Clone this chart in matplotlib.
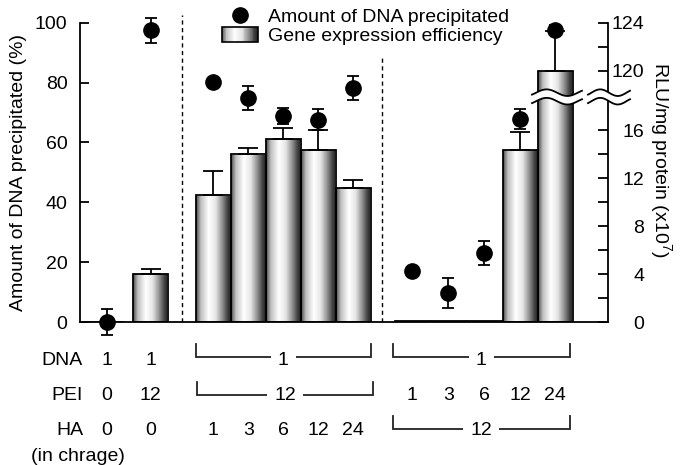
import numpy as np
import matplotlib
matplotlib.use("Agg")
import matplotlib.pyplot as plt
from matplotlib.patches import Rectangle, Polygon
from matplotlib.lines import Line2D
from matplotlib.legend_handler import HandlerBase
from matplotlib.ticker import FixedLocator

plt.rcParams["font.family"] = ["Liberation Sans", "DejaVu Sans"]
plt.rcParams["font.size"] = 14
plt.rcParams["mathtext.fontset"] = "custom"
plt.rcParams["mathtext.rm"] = "Liberation Sans"
plt.rcParams["mathtext.it"] = "Liberation Sans:italic"
plt.rcParams["mathtext.bf"] = "Liberation Sans:bold"

# ---- data ----
# gene expression, RLU/mg protein (x10^7)
rlu = [0, 4.05, 10.6, 14.0, 15.3, 14.4, 11.2, 0.08, 0.08, 0.08, 14.4, 119.9]
rlu_err = [0, 0.35, 2.0, 0.5, 0.9, 1.6, 0.7, 0, 0, 0, 1.5, 3.4]
# amount of DNA precipitated (%)
precip = [0, 97.5, 80.1, 74.8, 68.8, 67.6, 78.1, 17.1, 9.8, 23.2, 67.9, 97.6]
precip_err = [4.5, 4.2, 1.0, 3.9, 2.7, 3.4, 4.0, 1.0, 5.0, 4.0, 3.3, 1.5]

# composition table under the plot
first_dna = ["1", "1"]
first_pei = ["0", "12"]
first_ha = ["0", "0"]
grp3_dna, grp3_pei = "1", "12"
grp3_ha = ["1", "3", "6", "12", "24"]
grp4_dna, grp4_ha = "1", "12"
grp4_pei = ["1", "3", "6", "12", "24"]

# x positions of the 12 columns
pos = np.array([0, 1.25, 3.02, 4.01, 5.0, 5.99, 6.98, 8.66, 9.68, 10.7, 11.72, 12.71])
bar_w = 0.99


# broken right axis: 18..120 squeezed into a small gap
def fwd(r):
    r = np.asarray(r, dtype=float)
    return np.where(r <= 18, r, np.where(r >= 120, r - 99, 18 + (r - 18) * 3 / 102))


def inv(y):
    y = np.asarray(y, dtype=float)
    return np.where(y <= 18, y, np.where(y >= 21, y + 99, 18 + (y - 18) * 102 / 3))


# cylinder-like shading of the bars
shade_t = [0, 0.12, 0.35, 0.55, 0.75, 0.9, 1.0]
shade_v = [0.35, 0.75, 1.0, 0.9, 0.55, 0.25, 0.12]
grad = np.interp(np.linspace(0, 1, 64), shade_t, shade_v)


class GradientHandler(HandlerBase):
    def create_artists(self, legend, orig_handle, xdescent, ydescent,
                       width, height, fontsize, trans):
        arts = []
        n = 40
        for k in range(n):
            c = str(float(np.interp((k + 0.5) / n, shade_t, shade_v)))
            arts.append(Rectangle((-xdescent + k * width / n, -ydescent), width / n * 1.1, height,
                                  facecolor=c, edgecolor="none", transform=trans))
        arts.append(Rectangle((-xdescent, -ydescent), width, height, facecolor="none",
                              edgecolor="black", linewidth=1.2, transform=trans))
        return arts


fig = plt.figure(figsize=(6.81, 4.65), dpi=100)
ax1 = fig.add_axes([80 / 681, 1 - 322 / 465, 528 / 681, 299.3 / 465])
ax2 = ax1.twinx()
ax1.set_zorder(ax2.get_zorder() + 1)
ax1.patch.set_visible(False)

# bars on the right (RLU) axis
ax2.set_yscale("function", functions=(fwd, inv))
bars = ax2.bar(pos, rlu, width=bar_w, facecolor="none", edgecolor="black", linewidth=1.3, zorder=3)
for p in bars.patches:
    if p.get_height() <= 0:
        continue
    im = ax2.imshow(grad[None, :], cmap="gray", vmin=0, vmax=1, aspect="auto",
                    extent=(p.get_x(), p.get_x() + p.get_width(), 0, 124),
                    interpolation="bilinear", zorder=2)
    im.set_clip_path(p)

idx = [i for i, e in enumerate(rlu_err) if e > 0]
ax2.errorbar(pos[idx], [rlu[i] for i in idx], yerr=[[0] * len(idx), [rlu_err[i] for i in idx]],
             fmt="none", ecolor="black", elinewidth=1.3, capsize=7, capthick=1.3, zorder=4)

# points on the left (%) axis
eb = ax1.errorbar(pos, precip, yerr=precip_err, fmt="o", color="black", markersize=11,
                  elinewidth=1.3, capsize=4, capthick=1.3, zorder=5)
eb.lines[0].set_clip_on(False)
for a in eb.lines[1]:
    a.set_clip_on(False)
for a in eb.lines[2]:
    a.set_clip_on(False)

ax1.set_xlim(-0.756, 14.2)
ax1.set_ylim(0, 100)
ax2.set_ylim(0, 124)

# dashed separators
ax1.axvline(2.13, ymin=0, ymax=1.026, color="black", linestyle=(0, (3, 2.5)), linewidth=1, clip_on=False, zorder=1)
ax1.axvline(7.81, ymin=0, ymax=0.892, color="black", linestyle=(0, (3, 2.5)), linewidth=1, clip_on=False, zorder=1)

# spines and ticks
for s in ["top", "right"]:
    ax1.spines[s].set_visible(False)
for s in ["top", "left", "bottom"]:
    ax2.spines[s].set_visible(False)
ax1.spines["left"].set_linewidth(1.3)
ax1.spines["bottom"].set_linewidth(1.3)
ax2.spines["right"].set_linewidth(1.3)

ax1.set_xticks([])
ax1.set_yticks([0, 20, 40, 60, 80, 100])
ax1.tick_params(axis="y", direction="in", length=6.5, width=1.3, pad=9)
ax2.yaxis.set_major_locator(FixedLocator([0, 4, 8, 12, 16, 120, 124]))
ax2.yaxis.set_minor_locator(FixedLocator([2, 6, 10, 14, 122]))
ax2.yaxis.set_major_formatter(matplotlib.ticker.FuncFormatter(lambda v, p: "%d" % round(v)))
ax2.yaxis.set_minor_formatter(matplotlib.ticker.NullFormatter())
ax2.tick_params(axis="y", which="both", direction="in", length=7, width=1.3, pad=26)
plt.setp(ax2.get_yticklabels(), ha="right")

ax1.set_ylabel("Amount of DNA precipitated (%)", va="center")
ax1.yaxis.set_label_coords(-0.117, 0.5)
ax2.set_ylabel(r"RLU/mg protein (x10$^7$)", rotation=-90, va="center", ha="center")
ax2.yaxis.set_label_coords(1.100, 0.541)


# axis break marks
def draw_break(ax, xa0, xa1, yc):
    xs = np.linspace(xa0, xa1, 80)
    ph = (xs - xa0) / (xa1 - xa0)
    wave = 3.3 / 299.3 * np.sin(2 * np.pi * (ph * 1.2 - 0.1))
    gap = 8.5 / 299.3
    up = yc + gap / 2 + wave
    lo = yc - gap / 2 + wave
    poly = Polygon(np.column_stack([np.r_[xs, xs[::-1]], np.r_[up, lo[::-1]]]), closed=True,
                   facecolor="white", edgecolor="none", transform=ax.transAxes, clip_on=False, zorder=8)
    ax.add_patch(poly)
    ax.plot(xs, up, color="black", linewidth=1.3, transform=ax.transAxes, clip_on=False, zorder=9)
    ax.plot(xs, lo, color="black", linewidth=1.3, transform=ax.transAxes, clip_on=False, zorder=9)


draw_break(ax2, (532 - 80) / 528, (582 - 80) / 528, 0.752)
draw_break(ax2, (588 - 80) / 528, (630 - 80) / 528, 0.752)

# legend
pt_handle = Line2D([], [], marker="o", color="black", linestyle="none", markersize=11)
bar_handle = Rectangle((0, 0), 1, 1)
ax1.legend([pt_handle, bar_handle], ["Amount of DNA precipitated", "Gene expression efficiency"],
           handler_map={bar_handle: GradientHandler()}, loc="upper left",
           bbox_to_anchor=(222 / 681, 1 - 8 / 465), bbox_transform=fig.transFigure,
           frameon=False, borderpad=0, borderaxespad=0, handlelength=1.85, handleheight=0.8,
           handletextpad=0.5, labelspacing=0.05)

# composition table below the axis
tr = ax1.get_xaxis_transform()
row_y = {"DNA": -0.127, "PEI": -0.244, "HA": -0.361}
line_y = {"DNA": (-0.117, -0.0735), "PEI": (-0.244, -0.2005), "HA": (-0.3575, -0.314)}
for name, y in row_y.items():
    ax1.text(-0.67, y, name, transform=tr, ha="right", va="center", clip_on=False)
ax1.text(-0.81, -0.448, "(in chrage)", transform=tr, ha="center", va="center", clip_on=False)

for i in range(2):
    ax1.text(pos[i], row_y["DNA"], first_dna[i], transform=tr, ha="center", va="center")
    ax1.text(pos[i], row_y["PEI"], first_pei[i], transform=tr, ha="center", va="center")
    ax1.text(pos[i], row_y["HA"], first_ha[i], transform=tr, ha="center", va="center")
for i, lab in enumerate(grp3_ha):
    ax1.text(pos[2 + i], row_y["HA"], lab, transform=tr, ha="center", va="center")
for i, lab in enumerate(grp4_pei):
    ax1.text(pos[7 + i], row_y["PEI"], lab, transform=tr, ha="center", va="center")


def bracket(x0, x1, row, label):
    yl, yt = line_y[row]
    ax1.plot([x0, x0, x1, x1], [yt, yl, yl, yt], color="#222222", linewidth=1.3,
             transform=tr, clip_on=False, solid_joinstyle="miter")
    ax1.text((x0 + x1) / 2, row_y[row], label, transform=tr, ha="center", va="center",
             bbox=dict(facecolor="white", edgecolor="none", pad=5), clip_on=False)


bracket(pos[2] - 0.5, pos[6] + 0.5, "DNA", grp3_dna)
bracket(pos[2] - 0.45, pos[6] + 0.55, "PEI", grp3_pei)
bracket(pos[7] - 0.55, pos[11] + 0.4, "DNA", grp4_dna)
bracket(pos[7] - 0.55, pos[11] + 0.4, "HA", grp4_ha)

fig.savefig("out.png", dpi=100)
